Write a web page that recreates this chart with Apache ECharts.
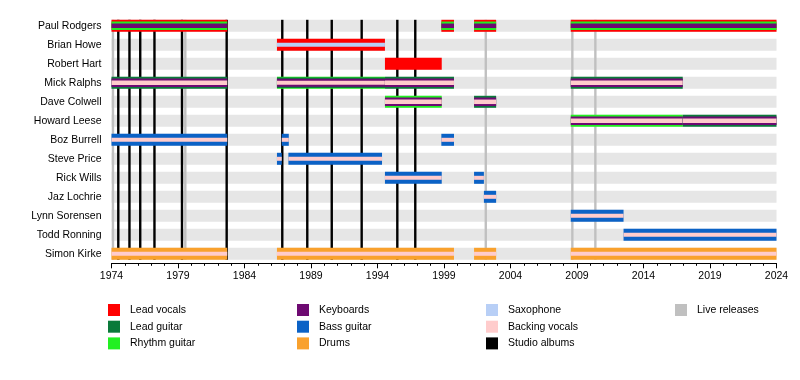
<!DOCTYPE html>
<html>
<head>
<meta charset="utf-8">
<script src="https://cdn.jsdelivr.net/npm/echarts@6/dist/echarts.min.js"></script>
<style>html,body{margin:0;padding:0;background:#fff}#c{width:800px;height:380px}</style>
</head>
<body>
<div id="c"></div>
<script>
const members = ["Paul Rodgers","Brian Howe","Robert Hart","Mick Ralphs","Dave Colwell","Howard Leese","Boz Burrell","Steve Price","Rick Wills","Jaz Lochrie","Lynn Sorensen","Todd Ronning","Simon Kirke"];
const tickYears = [1974,1979,1984,1989,1994,1999,2004,2009,2014,2019,2024];
// [member, from, till, roles (outer to inner)]
const segments = [
  ["Paul Rodgers",1974,1982.7,["Lead vocals","Rhythm guitar","Keyboards"]],
  ["Paul Rodgers",1998.8,1999.75,["Lead vocals","Rhythm guitar","Keyboards"]],
  ["Paul Rodgers",2001.26,2002.92,["Lead vocals","Rhythm guitar","Keyboards"]],
  ["Paul Rodgers",2008.53,2024,["Lead vocals","Rhythm guitar","Keyboards"]],
  ["Brian Howe",1986.44,1994.56,["Lead vocals","Saxophone"]],
  ["Robert Hart",1994.56,1998.83,["Lead vocals"]],
  ["Mick Ralphs",1974,1982.7,["Lead guitar","Keyboards","Backing vocals"]],
  ["Mick Ralphs",1986.44,1994.56,["Rhythm guitar","Lead guitar","Keyboards","Backing vocals"]],
  ["Mick Ralphs",1994.56,1999.75,["Lead guitar","Keyboards","Backing vocals"]],
  ["Mick Ralphs",2008.53,2016.95,["Lead guitar","Keyboards","Backing vocals"]],
  ["Dave Colwell",1994.56,1998.83,["Rhythm guitar","Keyboards","Backing vocals"]],
  ["Dave Colwell",2001.26,2002.92,["Lead guitar","Keyboards","Backing vocals"]],
  ["Howard Leese",2008.53,2016.95,["Rhythm guitar","Keyboards","Backing vocals"]],
  ["Howard Leese",2016.95,2024,["Lead guitar","Keyboards","Backing vocals"]],
  ["Boz Burrell",1974,1982.7,["Bass guitar","Backing vocals"]],
  ["Boz Burrell",1986.8,1987.33,["Bass guitar","Backing vocals"]],
  ["Boz Burrell",1998.8,1999.75,["Bass guitar","Backing vocals"]],
  ["Steve Price",1986.44,1986.8,["Bass guitar","Backing vocals"]],
  ["Steve Price",1987.3,1994.34,["Bass guitar","Backing vocals"]],
  ["Rick Wills",1994.56,1998.83,["Bass guitar","Backing vocals"]],
  ["Rick Wills",2001.26,2002.0,["Bass guitar","Backing vocals"]],
  ["Jaz Lochrie",2002.0,2002.92,["Bass guitar","Backing vocals"]],
  ["Lynn Sorensen",2008.53,2012.5,["Bass guitar","Backing vocals"]],
  ["Todd Ronning",2012.5,2024,["Bass guitar","Backing vocals"]],
  ["Simon Kirke",1974,1982.7,["Drums","Backing vocals"]],
  ["Simon Kirke",1986.44,1999.75,["Drums","Backing vocals"]],
  ["Simon Kirke",2001.26,2002.92,["Drums","Backing vocals"]],
  ["Simon Kirke",2008.53,2024,["Drums","Backing vocals"]]
];
const studioAlbums = [1974.51,1975.35,1976.16,1977.23,1979.30,1982.66,1986.84,1988.72,1990.56,1992.81,1995.49,1996.84];
const liveReleases = [1974.11,1979.55,2002.14,2008.65,2010.38];
const legendColumns = [
  ["Lead vocals","Lead guitar","Rhythm guitar"],
  ["Keyboards","Bass guitar","Drums"],
  ["Saxophone","Backing vocals","Studio albums"],
  ["Live releases"]
];

const colors = {
  "Lead vocals":"#ff0000","Lead guitar":"#0a7a3a","Rhythm guitar":"#22f022",
  "Keyboards":"#6e0a72","Bass guitar":"#0b62c6","Drums":"#f9a12d",
  "Saxophone":"#b8cff6","Backing vocals":"#ffcccc","Studio albums":"#000000","Live releases":"#c0c0c0"
};
const heightsByCount = {1:[12],2:[12,4],3:[12,8.5,4.5],4:[12,10.5,8,4]};
const BASE = 1974;
const FONT = "'Liberation Sans', Arial, sans-serif";

const chart = echarts.init(document.getElementById('c'), null, {renderer:'canvas'});

const stripeSeries = {
  type:'custom', z:1, silent:true,
  data: members.map((m,i)=>[i,1974-BASE,2024-BASE]),
  encode:{x:[1,2], y:0},
  renderItem(params, api){
    const a = api.coord([api.value(1), api.value(0)]);
    const b = api.coord([api.value(2), api.value(0)]);
    return {type:'rect', shape:{x:a[0], y:a[1]-6, width:b[0]-a[0], height:12}, style:{fill:'#e6e6e6'}};
  }
};
function lineSeries(years, color){
  return {
    type:'custom', z:2, silent:true,
    data: years.map(y=>[y-BASE, 0]),
    encode:{x:0, y:1},
    renderItem(params, api){
      const top = api.coord([api.value(0), 0]);
      const bot = api.coord([api.value(0), members.length-1]);
      return {type:'line', shape:{x1:top[0], y1:top[1]-6, x2:top[0], y2:bot[1]+6}, style:{stroke:color, lineWidth:2.4}};
    }
  };
}
const barSeries = {
  type:'custom', z:3, silent:true,
  data: segments.map(s=>[members.indexOf(s[0]), s[1]-BASE, s[2]-BASE]),
  encode:{x:[1,2], y:0},
  renderItem(params, api){
    const roles = segments[params.dataIndex][3];
    const hs = heightsByCount[roles.length];
    const a = api.coord([api.value(1), api.value(0)]);
    const b = api.coord([api.value(2), api.value(0)]);
    return {type:'group', children: roles.map((r,i)=>({
      type:'rect', shape:{x:a[0], y:a[1]-hs[i]/2, width:b[0]-a[0], height:hs[i]}, style:{fill:colors[r]}
    }))};
  }
};
const legendSeries = Object.keys(colors).map(n=>({name:n, type:'bar', data:[], itemStyle:{color:colors[n]}}));
const legendLefts = [108, 297, 486, 675];
const legends = legendColumns.map((col,i)=>({
  orient:'vertical', left:legendLefts[i], top:304, itemWidth:12, itemHeight:12, itemGap:4.7,
  selectedMode:false, icon:'rect', padding:0,
  data: col,
  textStyle:{fontFamily:FONT, fontSize:10.5, color:'#000', padding:[0,0,0,5]}
}));

chart.setOption({
  animation:false,
  backgroundColor:'#fff',
  grid:{left:111.5, right:23.5, top:16.3, height:247},
  xAxis:{
    type:'value', min:0, max:50, interval:5,
    axisLine:{show:true, lineStyle:{color:'#000', width:1}},
    axisTick:{show:true, length:5, lineStyle:{color:'#000'}},
    minorTick:{show:true, splitNumber:5, length:2.5, lineStyle:{color:'#000'}},
    splitLine:{show:false},
    axisLabel:{margin:7, fontFamily:FONT, fontSize:10.5, color:'#000', formatter:v=>String(tickYears[Math.round(v/5)])}
  },
  yAxis:{
    type:'category', data:members, inverse:true,
    axisLine:{show:false}, axisTick:{show:false}, splitLine:{show:false},
    axisLabel:{margin:10, fontFamily:FONT, fontSize:10.5, color:'#000'}
  },
  legend: legends,
  series:[stripeSeries, lineSeries(liveReleases, colors["Live releases"]), lineSeries(studioAlbums, colors["Studio albums"]), barSeries].concat(legendSeries)
});
</script>
</body>
</html>
